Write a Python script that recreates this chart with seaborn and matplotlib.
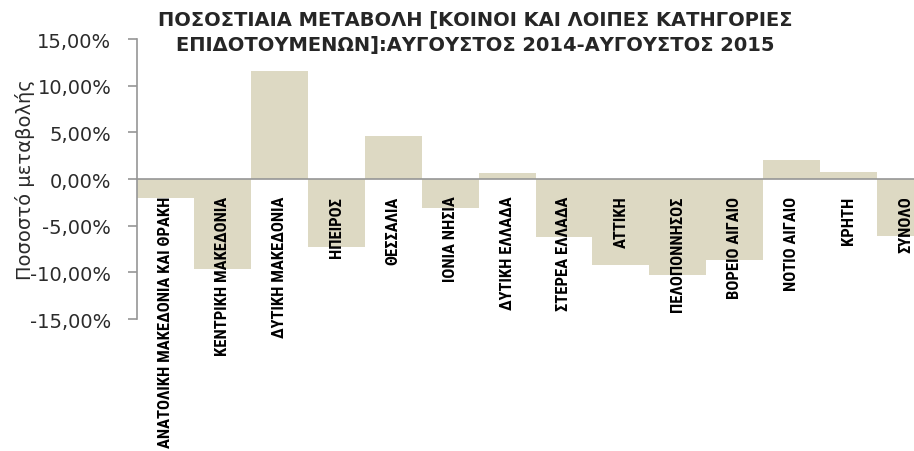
import matplotlib
matplotlib.use("Agg")
import matplotlib.pyplot as plt
import matplotlib.ticker as mticker
from matplotlib import font_manager
import seaborn as sns

# Data (percent change, Aug 2014 -> Aug 2015)
regions = [
    "ΑΝΑΤΟΛΙΚΗ ΜΑΚΕΔΟΝΙΑ ΚΑΙ ΘΡΑΚΗ",
    "ΚΕΝΤΡΙΚΗ ΜΑΚΕΔΟΝΙΑ",
    "ΔΥΤΙΚΗ ΜΑΚΕΔΟΝΙΑ",
    "ΗΠΕΙΡΟΣ",
    "ΘΕΣΣΑΛΙΑ",
    "ΙΟΝΙΑ ΝΗΣΙΑ",
    "ΔΥΤΙΚΗ ΕΛΛΑΔΑ",
    "ΣΤΕΡΕΑ ΕΛΛΑΔΑ",
    "ΑΤΤΙΚΗ",
    "ΠΕΛΟΠΟΝΝΗΣΟΣ",
    "ΒΟΡΕΙΟ ΑΙΓΑΙΟ",
    "ΝΟΤΙΟ ΑΙΓΑΙΟ",
    "ΚΡΗΤΗ",
    "ΣΥΝΟΛΟ",
]
change_pct = [-2.0, -9.65, 11.57, -7.25, 4.57, -3.07, 0.65,
              -6.18, -9.18, -10.3, -8.68, 2.04, 0.75, -6.07]
y_ticks = [-15, -10, -5, 0, 5, 10, 15]

title = ("ΠΟΣΟΣΤΙΑΙΑ ΜΕΤΑΒΟΛΗ [ΚΟΙΝΟΙ ΚΑΙ ΛΟΙΠΕΣ ΚΑΤΗΓΟΡΙΕΣ\n"
         "ΕΠΙΔΟΤΟΥΜΕΝΩΝ]:ΑΥΓΟΥΣΤΟΣ 2014-ΑΥΓΟΥΣΤΟΣ 2015")
y_label = "Ποσοστό μεταβολής"

BAR_COLOR = "#DDD9C3"
AXIS_GRAY = "#969696"

sns.set_style("white")
plt.rcParams["font.family"] = ["DejaVu Sans"]
plt.rcParams["axes.axisbelow"] = False

# pick a narrow font for the region labels if one is installed
installed = {(f.name, f.stretch) for f in font_manager.fontManager.ttflist}
names = {n for n, _ in installed}
label_font = dict(family="DejaVu Sans", fontsize=9.5)
for cand in ["Liberation Sans Narrow", "DejaVu Sans Condensed",
             "Noto Sans Condensed", "Roboto Condensed", "Open Sans Condensed"]:
    if cand in names:
        label_font = dict(family=cand, fontsize=12)
        break
else:
    if any(n == "DejaVu Sans" and s == "condensed" for n, s in installed):
        label_font = dict(family="DejaVu Sans", fontstretch="condensed",
                          fontsize=12)

fig = plt.figure(figsize=(9.14, 4.52), dpi=100)
ax = fig.add_axes([0.1499, 0.292, 0.872, 0.6195])

sns.barplot(x=regions, y=change_pct, color=BAR_COLOR, saturation=1,
            width=1.0, linewidth=0, ax=ax)

ax.set_ylim(-15, 15)
ax.set_yticks(y_ticks)
ax.yaxis.set_major_formatter(
    mticker.FuncFormatter(lambda v, _: f"{v:.2f}%".replace(".", ",")))

# spines: left axis + zero line, nothing else
for side in ["top", "right"]:
    ax.spines[side].set_visible(False)
ax.spines["bottom"].set_position(("data", 0))
for side in ["left", "bottom"]:
    ax.spines[side].set_color(AXIS_GRAY)
    ax.spines[side].set_linewidth(1.2)
ax.set_axisbelow(False)

ax.tick_params(axis="y", left=True, direction="out", length=6.5, width=1.2,
               color=AXIS_GRAY, pad=12, labelsize=14, labelcolor="#2b2b2b")
ax.tick_params(axis="x", bottom=False, length=0, pad=12)
ax.set_xticks(range(len(regions)))
ax.set_xticklabels(regions, rotation=90, ha="center", va="top",
                   fontweight="bold", color="black", **label_font)

ax.set_ylabel(y_label, fontsize=14, color="#2b2b2b")
ax.yaxis.set_label_coords(-0.128, 0.5)

fig.text(0.52, 0.975, title, ha="center", va="top", fontsize=14,
         fontweight="bold", linespacing=1.4)

fig.savefig("out.png", dpi=100)
